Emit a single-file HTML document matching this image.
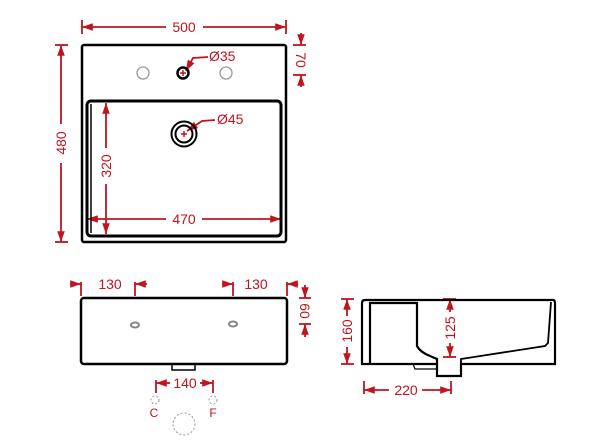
<!DOCTYPE html>
<html><head><meta charset="utf-8"><style>body{margin:0;background:#fff}svg{display:block}text{font-family:"Liberation Sans",sans-serif;font-size:14px;fill:#c0141e}</style></head>
<body>
<svg width="605" height="441" viewBox="0 0 605 441" xmlns="http://www.w3.org/2000/svg">
<defs>
<marker id="a" viewBox="0 0 10 10" refX="10" refY="5" markerWidth="7" markerHeight="6" orient="auto-start-reverse"><path d="M0,1.5 L10,5 L0,8.5 z" fill="#c0141e"/></marker>
</defs>
<g stroke="#c0141e" stroke-width="1.8" fill="none">
<line x1="82" y1="20" x2="82" y2="34"/><line x1="286" y1="20" x2="286" y2="34"/>
<line x1="82" y1="27" x2="166" y2="27" marker-start="url(#a)"/><line x1="203" y1="27" x2="286" y2="27" marker-end="url(#a)"/>
<line x1="55" y1="45" x2="68" y2="45"/><line x1="55" y1="242" x2="68" y2="242"/>
<line x1="61" y1="45" x2="61" y2="124" marker-start="url(#a)"/><line x1="61" y1="163" x2="61" y2="242" marker-end="url(#a)"/>
<line x1="293" y1="45" x2="306" y2="45"/><line x1="293" y1="75" x2="306" y2="75"/>
<line x1="301" y1="33" x2="301" y2="45" marker-end="url(#a)"/><line x1="301" y1="87" x2="301" y2="75" marker-end="url(#a)"/>
<line x1="106" y1="103" x2="106" y2="148" marker-start="url(#a)"/><line x1="106" y1="184" x2="106" y2="234" marker-end="url(#a)"/>
<line x1="87" y1="219" x2="166" y2="219" marker-start="url(#a)"/><line x1="202" y1="219" x2="281" y2="219" marker-end="url(#a)"/>
<path d="M186,71 L193,58 L208,57" marker-start="url(#a)"/>
<path d="M187,131 L202,121 L215,120" marker-start="url(#a)"/>
<line x1="81" y1="282" x2="81" y2="296"/><line x1="70" y1="284" x2="81" y2="284" marker-end="url(#a)"/>
<line x1="135" y1="282" x2="135" y2="296"/><line x1="147" y1="284" x2="135" y2="284" marker-end="url(#a)"/>
<line x1="233" y1="282" x2="233" y2="296"/><line x1="222" y1="284" x2="233" y2="284" marker-end="url(#a)"/>
<line x1="287" y1="282" x2="287" y2="296"/><line x1="298" y1="284" x2="287" y2="284" marker-end="url(#a)"/>
<line x1="299" y1="298" x2="311" y2="298"/><line x1="299" y1="324" x2="311" y2="324"/>
<line x1="305" y1="285" x2="305" y2="298" marker-end="url(#a)"/><line x1="305" y1="337" x2="305" y2="324" marker-end="url(#a)"/>
<line x1="156" y1="380" x2="156" y2="393"/><line x1="213" y1="380" x2="213" y2="393"/>
<line x1="156" y1="383" x2="170" y2="383" marker-start="url(#a)"/><line x1="200" y1="383" x2="213" y2="383" marker-end="url(#a)"/>
<line x1="341" y1="299" x2="354" y2="299"/><line x1="341" y1="364" x2="354" y2="364"/>
<line x1="347" y1="299" x2="347" y2="316" marker-start="url(#a)"/><line x1="347" y1="347" x2="347" y2="364" marker-end="url(#a)"/>
<line x1="443" y1="299" x2="456" y2="299"/><line x1="443" y1="357" x2="456" y2="357"/>
<line x1="450" y1="299" x2="450" y2="312" marker-start="url(#a)"/><line x1="450" y1="343" x2="450" y2="357" marker-end="url(#a)"/>
<line x1="364" y1="381" x2="364" y2="394"/><line x1="451" y1="381" x2="451" y2="394"/>
<line x1="364" y1="390" x2="389" y2="390" marker-start="url(#a)"/><line x1="422" y1="390" x2="451" y2="390" marker-end="url(#a)"/>
</g>
<g stroke="#000" fill="none">
<rect x="82" y="45" width="204" height="197" rx="2" stroke-width="2.5"/>
<rect x="87" y="101" width="194" height="135" rx="4" stroke-width="3"/>
<line x1="91" y1="104" x2="91" y2="233" stroke-width="1.5"/>
<circle cx="183" cy="73" r="5.5" stroke-width="2.5"/>
<circle cx="184" cy="134" r="12.5" stroke-width="2"/>
<circle cx="184" cy="134" r="8.5" stroke-width="2"/>
<rect x="81" y="298" width="206" height="66" rx="3" stroke-width="2.5"/>
<rect x="172" y="364" width="23" height="6" stroke-width="1.5"/>
<path d="M365,300 L553,300 Q555,300 555,303 L555,364 L461,364 L461,376 L437,376 L437,364 L362,364 L362,303 Q362,300 365,300 Z" stroke-width="2.2"/>
<path d="M370,364 L370,303 L417,303 L417,346 Q420,352 430,356 L437,359 L437,364" stroke-width="2.2"/>
<path d="M461,364 L461,359 L545,346 L548,343 L551,302" stroke-width="1.8"/>
<path d="M413,364 L415,369 L437,369" stroke-width="1.2"/>
</g>
<g fill="none" stroke="#999" stroke-width="1.3">
<circle cx="143" cy="73" r="6"/><circle cx="226" cy="73" r="6"/>
</g>
<ellipse cx="135" cy="325" rx="4" ry="2.5" fill="none" stroke="#888" stroke-width="2"/>
<ellipse cx="233" cy="324" rx="4" ry="2.5" fill="none" stroke="#888" stroke-width="2"/>
<g fill="none" stroke="#999" stroke-width="1" stroke-dasharray="2,2">
<circle cx="155" cy="400" r="4"/><circle cx="213" cy="400" r="4"/><circle cx="184" cy="424" r="11"/>
</g>
<g stroke="#c0141e" stroke-width="1.5">
<line x1="180" y1="73" x2="186" y2="73"/><line x1="183" y1="70" x2="183" y2="76"/>
<line x1="181" y1="134" x2="187" y2="134"/><line x1="184" y1="131" x2="184" y2="137"/>
</g>
<text x="184" y="32" text-anchor="middle">500</text>
<text transform="translate(66,143) rotate(-90)" text-anchor="middle">480</text>
<text transform="translate(296,60) rotate(90)" text-anchor="middle">70</text>
<text transform="translate(111,166) rotate(-90)" text-anchor="middle">320</text>
<text x="184" y="224" text-anchor="middle">470</text>
<text x="209" y="61">Ø35</text>
<text x="217" y="124">Ø45</text>
<text x="110" y="289" text-anchor="middle">130</text>
<text x="256" y="289" text-anchor="middle">130</text>
<text transform="translate(300,311) rotate(90)" text-anchor="middle">60</text>
<text x="185" y="388" text-anchor="middle">140</text>
<text x="154" y="417" text-anchor="middle" style="font-size:12px">C</text>
<text x="213" y="417" text-anchor="middle" style="font-size:12px">F</text>
<text transform="translate(352,331) rotate(-90)" text-anchor="middle">160</text>
<text transform="translate(455,328) rotate(-90)" text-anchor="middle">125</text>
<text x="406" y="395" text-anchor="middle">220</text>
</svg>
</body></html>
